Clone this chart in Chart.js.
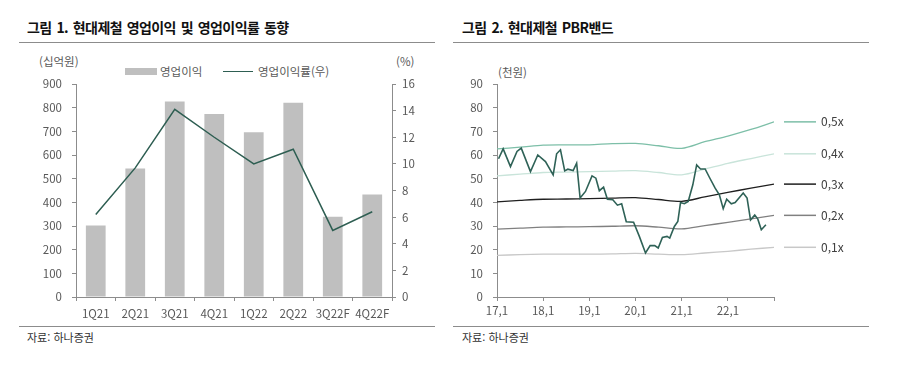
<!DOCTYPE html>
<html lang="ko">
<head>
<meta charset="utf-8">
<script src="https://cdn.jsdelivr.net/npm/chart.js@4.4.1/dist/chart.umd.min.js"></script>
<style>
  html, body { margin: 0; padding: 0; background: #fff; }
  body { width: 903px; height: 377px; position: relative; overflow: hidden;
         font-family: "Noto Sans CJK KR", "Noto Sans", sans-serif; }
  .abs { position: absolute; white-space: nowrap; }
  .title { font-weight: bold; font-size: 14px; color: #111; letter-spacing: -0.6px; word-spacing: 1.5px; line-height: 1; }
  .rule { position: absolute; height: 0; border-top: 1px solid #8c8c8c; }
  .unit { font-size: 11.5px; color: #595959; line-height: 1; }
  .src { font-size: 11px; color: #333; line-height: 1; }
  .leg { font-size: 11.5px; color: #595959; line-height: 1; }
  canvas { position: absolute; top: 0; }
</style>
</head>
<body>
<div class="abs title" style="left:27px; top:20px;">그림 1. 현대제철 영업이익 및 영업이익률 동향</div>
<div class="abs title" style="left:462px; top:20px;">그림 2. 현대제철 PBR밴드</div>
<div class="rule" style="left:19px; width:416px; top:42px;"></div>
<div class="rule" style="left:453px; width:416px; top:42px;"></div>

<div class="abs unit" style="left:39px; top:56px;">(십억원)</div>
<div class="abs unit" style="left:396px; top:56px;">(%)</div>
<div class="abs" style="left:125px; top:68px; width:32px; height:7px; background:#bfbfbf;"></div>
<div class="abs leg" style="left:160px; top:66px;">영업이익</div>
<div class="abs" style="left:223px; top:71px; width:30px; height:0; border-top:1.5px solid #2e5e52;"></div>
<div class="abs leg" style="left:258px; top:66px;">영업이익률(우)</div>

<div class="abs unit" style="left:498px; top:67px;">(천원)</div>

<div class="rule" style="left:19px; width:416px; top:326px;"></div>
<div class="rule" style="left:453px; width:416px; top:326px;"></div>
<div class="abs src" style="left:27px; top:332px;">자료: 하나증권</div>
<div class="abs src" style="left:462px; top:332px;">자료: 하나증권</div>

<canvas id="c1" width="450" height="377" style="left:0px;"></canvas>
<canvas id="c2" width="453" height="377" style="left:450px;"></canvas>

<script>
// ---------- Chart 1 data ----------
const quarters = ['1Q21', '2Q21', '3Q21', '4Q21', '1Q22', '2Q22', '3Q22F', '4Q22F'];
const opProfit = [302, 543, 826, 773, 696, 821, 339, 433];        // 십억원
const opMargin = [6.2, 9.7, 14.1, 12.0, 10.0, 11.1, 5.0, 6.4];   // %
const leftTicks = { min: 0, max: 900, step: 100 };
const rightTicks = { min: 0, max: 16, step: 2 };

// ---------- Chart 2 data (months since 2017.01) ----------
const priceMonths = [0.4, 1.6, 3.5, 5.2, 6.3, 8.7, 10.6, 12.6, 14.6, 15.5, 16.5, 17.6, 18.4, 19.8, 20.7,
  21.6, 23.0, 24.7, 25.7, 26.6, 27.7, 28.7, 30.1, 31.3, 32.4, 33.6, 35.5, 37.0, 38.6, 39.8, 41.0,
  41.9, 43.0, 44.2, 44.9, 46.1, 47.0, 47.7, 48.7, 49.7, 50.9, 51.9, 52.9, 54.1, 55.2, 56.7, 57.8,
  58.8, 59.7, 60.9, 61.9, 64.0, 65.0, 65.9, 67.0, 67.8, 68.7, 69.9];
const priceValues = [58.4, 62.6, 55.1, 61.5, 62.9, 53.0, 60.0, 57.2, 51.6, 60.5, 62.2, 53.3, 54.0, 53.4, 56.5,
  41.8, 44.6, 51.2, 50.2, 44.9, 46.4, 41.3, 41.1, 38.8, 39.4, 31.8, 31.6, 25.6, 18.6, 21.7, 21.7,
  20.7, 25.2, 25.6, 24.9, 29.8, 31.9, 39.9, 39.4, 40.4, 47.4, 55.8, 54.1, 54.1, 50.6, 46.0, 43.2,
  37.3, 41.3, 39.4, 39.9, 43.9, 41.8, 32.6, 34.6, 32.9, 28.4, 30.5];
const bandMonths = [0, 6, 12, 18, 24, 30, 36, 42, 48, 54, 60, 66, 72];
const band05 = [62.6, 63.3, 64.2, 64.3, 64.3, 64.8, 64.9, 63.9, 62.8, 65.6, 68.0, 70.8, 74.0];
const band04 = [51.2, 51.9, 52.6, 52.8, 53.0, 53.2, 53.4, 52.6, 51.6, 54.0, 56.5, 58.5, 60.5];
const band03 = [40.2, 40.8, 41.3, 41.4, 41.6, 41.8, 42.0, 41.2, 40.4, 42.3, 44.2, 46.0, 47.7];
const band02 = [28.7, 29.1, 29.5, 29.6, 29.7, 29.9, 30.1, 29.5, 28.8, 30.2, 31.5, 33.0, 34.5];
const band01 = [17.6, 17.9, 18.1, 18.1, 18.1, 18.2, 18.4, 18.1, 17.9, 18.6, 19.3, 20.2, 21.0];
const bandLabels = ['0,5x', '0,4x', '0,3x', '0,2x', '0,1x'];
const xTickYears = [17, 18, 19, 20, 21, 22];

const tickColor = '#595959';
const axisColor = '#8c8c8c';
const tickFont = { family: '"Noto Sans CJK KR", "Noto Sans", sans-serif', size: 11.5 };

// ---------- Chart 1 ----------
new Chart(document.getElementById('c1'), {
  data: {
    labels: quarters,
    datasets: [
      { type: 'line', label: '영업이익률(우)', data: opMargin, yAxisID: 'y1',
        borderColor: '#2e5e52', borderWidth: 1.5, pointRadius: 0, tension: 0, order: 0 },
      { type: 'bar', label: '영업이익', data: opProfit, yAxisID: 'y',
        backgroundColor: '#bfbfbf', barPercentage: 0.5, categoryPercentage: 1.0, order: 1 }
    ]
  },
  options: {
    responsive: false, animation: false, devicePixelRatio: 1,
    layout: { padding: { top: 84, left: 0, right: 0, bottom: 0 } },
    plugins: { legend: { display: false }, tooltip: { enabled: false } },
    scales: {
      x: {
        grid: { display: true, drawOnChartArea: false, tickLength: 4, color: axisColor, offset: true },
        border: { color: axisColor },
        ticks: { color: tickColor, font: tickFont, padding: 6, maxRotation: 0 },
        afterFit: s => { s.height = 80; }
      },
      y: {
        position: 'left', min: leftTicks.min, max: leftTicks.max,
        grid: { display: true, drawOnChartArea: false, tickLength: 4, color: axisColor },
        border: { color: axisColor },
        ticks: { stepSize: leftTicks.step, color: tickColor, font: tickFont, padding: 10 },
        afterFit: s => { s.width = 76; }
      },
      y1: {
        position: 'right', min: rightTicks.min, max: rightTicks.max,
        grid: { display: true, drawOnChartArea: false, tickLength: 4, color: axisColor },
        border: { color: axisColor },
        ticks: { stepSize: rightTicks.step, color: tickColor, font: tickFont, padding: 6 },
        afterFit: s => { s.width = 58; }
      }
    }
  }
});

// ---------- Chart 2 ----------
const toXY = (xs, ys) => xs.map((x, i) => ({ x: x, y: ys[i] }));
const bandSeries = [band05, band04, band03, band02, band01];
const bandColors = ['#7dbfa8', '#c9e4da', '#1f1f1f', '#808080', '#c8c8c8'];

const endLabels = {
  id: 'endLabels',
  afterDatasetsDraw(chart) {
    const ctx = chart.ctx;
    const area = chart.chartArea;
    const ys = chart.scales.y;
    ctx.save();
    chart.data.datasets.forEach(ds => {
      if (!ds.endLabel) return;
      const last = ds.data[ds.data.length - 1];
      const py = ys.getPixelForValue(last.y);
      ctx.strokeStyle = ds.borderColor;
      ctx.lineWidth = 1.5;
      ctx.beginPath();
      ctx.moveTo(area.right + 10, py);
      ctx.lineTo(area.right + 42, py);
      ctx.stroke();
      ctx.fillStyle = '#404040';
      ctx.font = '12px "Noto Sans CJK KR", "Noto Sans", sans-serif';
      ctx.textBaseline = 'middle';
      ctx.textAlign = 'left';
      ctx.fillText(ds.endLabel, area.right + 47, py);
    });
    ctx.restore();
  }
};

new Chart(document.getElementById('c2'), {
  type: 'line',
  data: {
    datasets: [
      { label: '주가', data: toXY(priceMonths, priceValues), borderColor: '#2f6257',
        borderWidth: 1.6, pointRadius: 0, tension: 0, order: 0 },
      ...bandSeries.map((b, i) => ({
        label: bandLabels[i], endLabel: bandLabels[i], data: toXY(bandMonths, b),
        borderColor: bandColors[i], borderWidth: 1.3, pointRadius: 0, tension: 0.3, order: 1
      }))
    ]
  },
  options: {
    responsive: false, animation: false, devicePixelRatio: 1,
    layout: { padding: { top: 84, left: 0, right: 129, bottom: 0 } },
    plugins: { legend: { display: false }, tooltip: { enabled: false } },
    scales: {
      x: {
        type: 'linear', min: 0, max: 72,
        grid: { display: true, drawOnChartArea: false, tickLength: 4, color: axisColor },
        border: { color: axisColor },
        ticks: {
          stepSize: 12, color: tickColor, font: tickFont, padding: 3, maxRotation: 0,
          callback: v => { const yr = 17 + v / 12; return xTickYears.includes(yr) ? yr + ',1' : ''; }
        },
        afterFit: s => { s.height = 80; }
      },
      y: {
        min: 0, max: 90,
        grid: { display: true, drawOnChartArea: false, tickLength: 4, color: axisColor },
        border: { color: axisColor },
        ticks: { stepSize: 10, color: tickColor, font: tickFont, padding: 10 },
        afterFit: s => { s.width = 47; }
      }
    }
  },
  plugins: [endLabels]
});
</script>
</body>
</html>
